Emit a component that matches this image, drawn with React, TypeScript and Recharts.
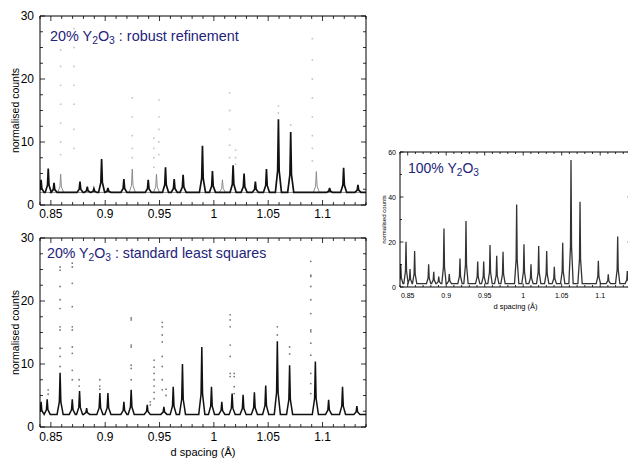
import React from 'react';
import { ComposedChart, Line, Scatter, XAxis, YAxis } from 'recharts';

const FONT = '"Liberation Sans", Arial, Helvetica, sans-serif';
const TITLE_COLOR = '#23237a';

const X_DOMAIN: [number, number] = [0.84, 1.14];
const xTicks = [0.84, 0.85, 0.86, 0.87, 0.88, 0.89, 0.9, 0.91, 0.92, 0.93, 0.94, 0.95, 0.96, 0.97, 0.98, 0.99, 1, 1.01, 1.02, 1.03, 1.04, 1.05, 1.06, 1.07, 1.08, 1.09, 1.1, 1.11, 1.12, 1.13, 1.14];
const xLabelTicks = [0.85, 0.9, 0.95, 1, 1.05, 1.1];
const yTicks30 = [0, 2.5, 5, 7.5, 10, 12.5, 15, 17.5, 20, 22.5, 25, 27.5, 30];
const yLabelTicks30 = [0, 10, 20, 30];
const yTicks60 = [0, 10, 20, 30, 40, 50, 60];
const yLabelTicks60 = [0, 20, 40, 60];

// ---- 20% Y2O3 : robust refinement ----
const robustBase = 2.0;
const robustMainPeaks = [
  [0.841, 4.0], [0.8476, 5.8], [0.8529, 3.5], [0.8768, 3.7], [0.8835, 2.9], [0.8896, 2.6],
  [0.8967, 7.3], [0.9025, 2.7], [0.9172, 4.1], [0.9396, 4.0], [0.9555, 6.0], [0.9635, 4.1],
  [0.9717, 4.8], [0.9895, 9.4], [0.9987, 5.4], [1.0177, 6.3], [1.0278, 5.0], [1.0382, 3.7],
  [1.0484, 5.7], [1.0594, 13.6], [1.0707, 11.6], [1.1065, 2.7], [1.1194, 5.9], [1.1326, 3.2],
];
const robustGreyPeaks = [
  [0.859, 4.9], [0.9249, 5.7], [0.9472, 4.9], [1.0079, 4.0], [1.0943, 5.3],
];
const robustOutlierColumns: [number, number[]][] = [
  [0.859, [24.6, 22, 19, 16, 13, 10, 8]],
  [0.8713, [28, 25, 22, 19, 16, 12, 9]],
  [0.9249, [17, 14, 11, 9, 7.5]],
  [0.9448, [10.6, 9, 7.5, 6]],
  [0.9494, [16.7, 14, 12, 10, 8]],
  [1.0145, [17.8, 15, 12, 9.5, 7.5]],
  [1.02, [8.7, 7.5, 6.5]],
  [1.0594, [15.7, 14.6]],
  [1.0707, [12.7]],
  [1.0906, [26.4, 23, 20, 17, 14, 11, 9, 7]],
];

// ---- 20% Y2O3 : standard least squares ----
const lsqBase = 2.0;
const lsqPeaks = [
  [0.841, 4.0], [0.8466, 4.4], [0.8585, 8.6], [0.8697, 4.4], [0.8764, 5.7], [0.8829, 3.0],
  [0.8951, 5.4], [0.9025, 5.4], [0.9172, 4.0], [0.9239, 5.9], [0.9387, 3.5], [0.954, 3.2],
  [0.9626, 6.4], [0.9711, 10.0], [0.9889, 12.7], [0.9978, 6.4], [1.0073, 4.0], [1.0168, 5.3],
  [1.0269, 5.1], [1.0373, 5.5], [1.0477, 6.6], [1.0584, 13.6], [1.0697, 9.8], [1.0934, 10.4],
  [1.1056, 4.3], [1.1184, 6.4], [1.1316, 3.3],
];
const lsqOutlierColumns: [number, number[]][] = [
  [0.8475, [5.9, 5.2]],
  [0.8585, [25.4, 24.9, 22.3, 20.2, 18.8, 15.9, 15.4, 12.5, 11.2, 9.6]],
  [0.8697, [26.0, 25.4, 22.8, 19.1, 15.9, 15.4, 12.7, 11.7, 9.0, 7.5]],
  [0.876, [7.5, 6.5]],
  [0.895, [7.5, 6.5, 6.0]],
  [0.9239, [17.3, 17.0, 13.0, 12.7, 9.8, 9.3, 7.5]],
  [0.9415, [4.0, 3.5]],
  [0.945, [10.6, 9.5, 8.5, 7.5, 6.5, 5.5, 4.5]],
  [0.9525, [16.6, 15.9, 14.6, 13.5, 11.2, 9.6, 7.5, 5.9]],
  [0.956, [6.0, 5.0]],
  [1.015, [17.8, 17.0, 15.9, 13.0, 11.2, 8.5, 8.0]],
  [1.0187, [8.5, 8.0, 6.4, 5.3]],
  [1.0584, [15.9, 14.6]],
  [1.0697, [12.7, 11.6]],
  [1.0892, [26.3, 24.1, 23.9, 22.3, 20.2, 18.0, 15.4, 15.1, 13.3, 11.4, 8.5, 6.9, 5.3]],
];

// ---- 100% Y2O3 ----
const pureBase = 1.5;
const purePeaks = [
  [0.841, 10.2], [0.8478, 20.1], [0.853, 8.0], [0.859, 16.0], [0.8772, 10.1], [0.8838, 6.8],
  [0.8903, 4.6], [0.8971, 26.0], [0.904, 5.8], [0.9179, 12.7], [0.9257, 29.3], [0.9409, 11.3],
  [0.9487, 11.3], [0.9569, 18.7], [0.9656, 13.9], [0.9738, 15.7], [0.9915, 36.7], [1.001, 19.0],
  [1.0101, 10.1], [1.0201, 18.2], [1.0305, 16.0], [1.0404, 9.0], [1.0513, 19.7], [1.0621, 56.4],
  [1.0738, 37.9], [1.0976, 11.7], [1.1105, 5.6], [1.1227, 22.4], [1.1352, 7.1],
];

// peak drawing style: a narrow spike with concave flanks
const PEAK_FOOT = 0.0028;
const PEAK_SHOULDER = 0.0007;
const SHOULDER_LEVEL = 0.3;

function profile(peaks: number[][], base: number) {
  const pts: { d: number; y: number }[] = [{ d: X_DOMAIN[0] - 0.01, y: base }];
  [...peaks]
    .sort((a, b) => a[0] - b[0])
    .forEach(([d, h]) => {
      const s = base + (h - base) * SHOULDER_LEVEL;
      pts.push(
        { d: d - PEAK_FOOT, y: base },
        { d: d - PEAK_SHOULDER, y: s },
        { d, y: h },
        { d: d + PEAK_SHOULDER, y: s },
        { d: d + PEAK_FOOT, y: base },
      );
    });
  pts.push({ d: X_DOMAIN[1] + 0.01, y: base });
  return pts;
}

function columns(cols: [number, number[]][]) {
  const pts: { d: number; y: number }[] = [];
  cols.forEach(([d, ys]) => ys.forEach((y) => pts.push({ d, y })));
  return pts;
}

const hiddenFrame30 = [{ d: X_DOMAIN[0], y: 0 }, { d: X_DOMAIN[1], y: 30 }];
const hiddenFrame60 = [{ d: X_DOMAIN[0], y: 0 }, { d: X_DOMAIN[1], y: 60 }];

const near = (v: number, list: number[]) => list.some((l) => Math.abs(l - v) < 1e-6);
const fmt = (v: number) => String(Math.round(v * 100) / 100);

function bottomTick(labels: number[], fs: number, major: number, minor: number, dy: number) {
  return (p: any) => {
    const { x, y, payload } = p;
    const m = near(payload.value, labels);
    return (
      <g>
        <line x1={x} x2={x} y1={y} y2={y - (m ? major : minor)} stroke="#000" strokeWidth={0.8} />
        {m && (
          <text x={x} y={y + dy} textAnchor="middle" fontSize={fs} fontFamily={FONT} fill="#000">
            {fmt(payload.value)}
          </text>
        )}
      </g>
    );
  };
}
function topTick(labels: number[], major: number, minor: number) {
  return (p: any) => {
    const { x, y, payload } = p;
    const m = near(payload.value, labels);
    return <line x1={x} x2={x} y1={y} y2={y + (m ? major : minor)} stroke="#000" strokeWidth={0.8} />;
  };
}
function leftTick(labels: number[], fs: number, major: number, minor: number, gap: number) {
  return (p: any) => {
    const { x, y, payload } = p;
    const m = near(payload.value, labels);
    return (
      <g>
        <line x1={x} x2={x + (m ? major : minor)} y1={y} y2={y} stroke="#000" strokeWidth={0.8} />
        {m && (
          <text x={x - gap} y={y} dy="0.36em" textAnchor="end" fontSize={fs} fontFamily={FONT} fill="#000">
            {fmt(payload.value)}
          </text>
        )}
      </g>
    );
  };
}
function rightTick(labels: number[], major: number, minor: number) {
  return (p: any) => {
    const { x, y, payload } = p;
    const m = near(payload.value, labels);
    return <line x1={x} x2={x - (m ? major : minor)} y1={y} y2={y} stroke="#000" strokeWidth={0.8} />;
  };
}

function yLabel(cx: number, cyFallback: number, fs: number) {
  return (p: any) => {
    const vb = p && p.viewBox;
    const cy = vb && typeof vb.height === 'number' ? vb.y + vb.height / 2 : cyFallback;
    return (
      <text x={cx} y={cy} transform={`rotate(-90 ${cx} ${cy})`} textAnchor="middle" dy="0.35em" fontSize={fs} fontFamily={FONT} fill="#000">
        normalised counts
      </text>
    );
  };
}
function xLabel(cxFallback: number, dyFromAxis: number, yFallback: number, fs: number) {
  return (p: any) => {
    const vb = p && p.viewBox;
    const ok = vb && typeof vb.width === 'number';
    const cx = ok ? vb.x + vb.width / 2 : cxFallback;
    const y = ok ? vb.y + dyFromAxis : yFallback;
    return (
      <text x={cx} y={y} textAnchor="middle" fontSize={fs} fontFamily={FONT} fill="#000">
        d spacing (Å)
      </text>
    );
  };
}

const dotShape = (color: string, r: number) => (p: any) => <circle cx={p.cx} cy={p.cy} r={r} fill={color} />;

const axisLine = { stroke: '#000', strokeWidth: 1 };

function Title({ left, top, size, children }: { left: number; top: number; size: number; children: React.ReactNode }) {
  return (
    <div style={{ position: 'absolute', left, top, color: TITLE_COLOR, fontFamily: FONT, fontSize: size, lineHeight: '16px', whiteSpace: 'nowrap' }}>
      {children}
    </div>
  );
}
const Sub = ({ children }: { children: React.ReactNode }) => (
  <span style={{ fontSize: '0.72em', verticalAlign: '-0.3em', lineHeight: 0 }}>{children}</span>
);

export default function App() {
  const robustGrey = profile(robustGreyPeaks, robustBase);
  const robustMain = profile(robustMainPeaks, robustBase);
  const robustOut = columns(robustOutlierColumns);
  const lsqLine = profile(lsqPeaks, lsqBase);
  const lsqOut = columns(lsqOutlierColumns);
  const pureLine = profile(purePeaks, pureBase);

  return (
    <div style={{ position: 'absolute', left: 0, top: 0, width: 628, height: 459, overflow: 'hidden', background: '#fff' }}>
      {/* Top-left panel */}
      <div style={{ position: 'absolute', left: 0, top: 0 }}>
        <ComposedChart width={380} height={225} margin={{ top: 15, right: 13, bottom: 0, left: 10 }}>
          <XAxis xAxisId="b" type="number" dataKey="d" domain={X_DOMAIN} allowDataOverflow ticks={xTicks} interval={0}
            height={20} tickSize={0} tickMargin={0} tickLine={false} axisLine={axisLine} tick={bottomTick(xLabelTicks, 12, 5, 3, 13)} />
          <XAxis xAxisId="t" orientation="top" type="number" dataKey="d" domain={X_DOMAIN} allowDataOverflow ticks={xTicks} interval={0}
            height={1} tickSize={0} tickMargin={0} tickLine={false} axisLine={axisLine} tick={topTick(xLabelTicks, 5, 3)} />
          <YAxis yAxisId="l" type="number" dataKey="y" domain={[0, 30]} allowDataOverflow ticks={yTicks30} interval={0}
            width={30} tickSize={0} tickMargin={0} tickLine={false} axisLine={axisLine} tick={leftTick(yLabelTicks30, 12, 5, 3, 6)}
            label={{ content: yLabel(15.7, 110.5, 10.5) }} />
          <YAxis yAxisId="r" orientation="right" type="number" dataKey="y" domain={[0, 30]} allowDataOverflow ticks={yTicks30} interval={0}
            width={1} tickSize={0} tickMargin={0} tickLine={false} axisLine={axisLine} tick={rightTick(yLabelTicks30, 5, 3)} />
          <Line xAxisId="t" yAxisId="r" data={hiddenFrame30} dataKey="y" stroke="none" dot={false} isAnimationActive={false} />
          <Scatter xAxisId="b" yAxisId="l" data={robustOut} dataKey="y" shape={dotShape('#c4c4c4', 0.9)} isAnimationActive={false} />
          <Line xAxisId="b" yAxisId="l" data={robustGrey} dataKey="y" type="linear" stroke="#8a8a8a" strokeWidth={1} dot={false} isAnimationActive={false} />
          <Line xAxisId="b" yAxisId="l" data={robustMain} dataKey="y" type="linear" stroke="#111" strokeWidth={1.7} dot={false} isAnimationActive={false} />
        </ComposedChart>
      </div>

      {/* Bottom-left panel */}
      <div style={{ position: 'absolute', left: 0, top: 220 }}>
        <ComposedChart width={380} height={239} margin={{ top: 17, right: 13, bottom: 0, left: 10 }}>
          <XAxis xAxisId="b" type="number" dataKey="d" domain={X_DOMAIN} allowDataOverflow ticks={xTicks} interval={0}
            height={32} tickSize={0} tickMargin={0} tickLine={false} axisLine={axisLine} tick={bottomTick(xLabelTicks, 12, 5, 3, 14)}
            label={{ content: xLabel(203, 29, 236, 11) }} />
          <XAxis xAxisId="t" orientation="top" type="number" dataKey="d" domain={X_DOMAIN} allowDataOverflow ticks={xTicks} interval={0}
            height={1} tickSize={0} tickMargin={0} tickLine={false} axisLine={axisLine} tick={topTick(xLabelTicks, 5, 3)} />
          <YAxis yAxisId="l" type="number" dataKey="y" domain={[0, 30]} allowDataOverflow ticks={yTicks30} interval={0}
            width={30} tickSize={0} tickMargin={0} tickLine={false} axisLine={axisLine} tick={leftTick(yLabelTicks30, 12, 5, 3, 6)}
            label={{ content: yLabel(15.7, 112.5, 10.5) }} />
          <YAxis yAxisId="r" orientation="right" type="number" dataKey="y" domain={[0, 30]} allowDataOverflow ticks={yTicks30} interval={0}
            width={1} tickSize={0} tickMargin={0} tickLine={false} axisLine={axisLine} tick={rightTick(yLabelTicks30, 5, 3)} />
          <Line xAxisId="t" yAxisId="r" data={hiddenFrame30} dataKey="y" stroke="none" dot={false} isAnimationActive={false} />
          <Scatter xAxisId="b" yAxisId="l" data={lsqOut} dataKey="y" shape={dotShape('#7a7a7a', 0.9)} isAnimationActive={false} />
          <Line xAxisId="b" yAxisId="l" data={lsqLine} dataKey="y" type="linear" stroke="#111" strokeWidth={1.5} dot={false} isAnimationActive={false} />
        </ComposedChart>
      </div>

      {/* Right panel */}
      <div style={{ position: 'absolute', left: 380, top: 140 }}>
        <ComposedChart width={265} height={187} margin={{ top: 11, right: 13, bottom: 0, left: 6 }}>
          <XAxis xAxisId="b" type="number" dataKey="d" domain={X_DOMAIN} allowDataOverflow ticks={xTicks} interval={0}
            height={40} tickSize={0} tickMargin={0} tickLine={false} axisLine={axisLine} tick={bottomTick(xLabelTicks, 7, 3.5, 2, 10.5)}
            label={{ content: xLabel(135.5, 21.5, 168.5, 7.5) }} />
          <XAxis xAxisId="t" orientation="top" type="number" dataKey="d" domain={X_DOMAIN} allowDataOverflow ticks={xTicks} interval={0}
            height={1} tickSize={0} tickMargin={0} tickLine={false} axisLine={axisLine} tick={topTick(xLabelTicks, 3.5, 2)} />
          <YAxis yAxisId="l" type="number" dataKey="y" domain={[0, 60]} allowDataOverflow ticks={yTicks60} interval={0}
            width={14} tickSize={0} tickMargin={0} tickLine={false} axisLine={axisLine} tick={leftTick(yLabelTicks60, 7, 3.5, 2, 4)}
            label={{ content: yLabel(4, 79.5, 6) }} />
          <YAxis yAxisId="r" orientation="right" type="number" dataKey="y" domain={[0, 60]} allowDataOverflow ticks={yTicks60} interval={0}
            width={1} tickSize={0} tickMargin={0} tickLine={false} axisLine={axisLine} tick={rightTick(yLabelTicks60, 3.5, 2)} />
          <Line xAxisId="t" yAxisId="r" data={hiddenFrame60} dataKey="y" stroke="none" dot={false} isAnimationActive={false} />
          <Line xAxisId="b" yAxisId="l" data={pureLine} dataKey="y" type="linear" stroke="#333" strokeWidth={1.3} dot={false} isAnimationActive={false} />
        </ComposedChart>
      </div>

      <Title left={50} top={27.5} size={14.4}>20% Y<Sub>2</Sub>O<Sub>3</Sub> : robust refinement</Title>
      <Title left={47} top={245} size={14.2}>20% Y<Sub>2</Sub>O<Sub>3</Sub> : standard least squares</Title>
      <Title left={408} top={160} size={14}>100% Y<Sub>2</Sub>O<Sub>3</Sub></Title>
    </div>
  );
}
